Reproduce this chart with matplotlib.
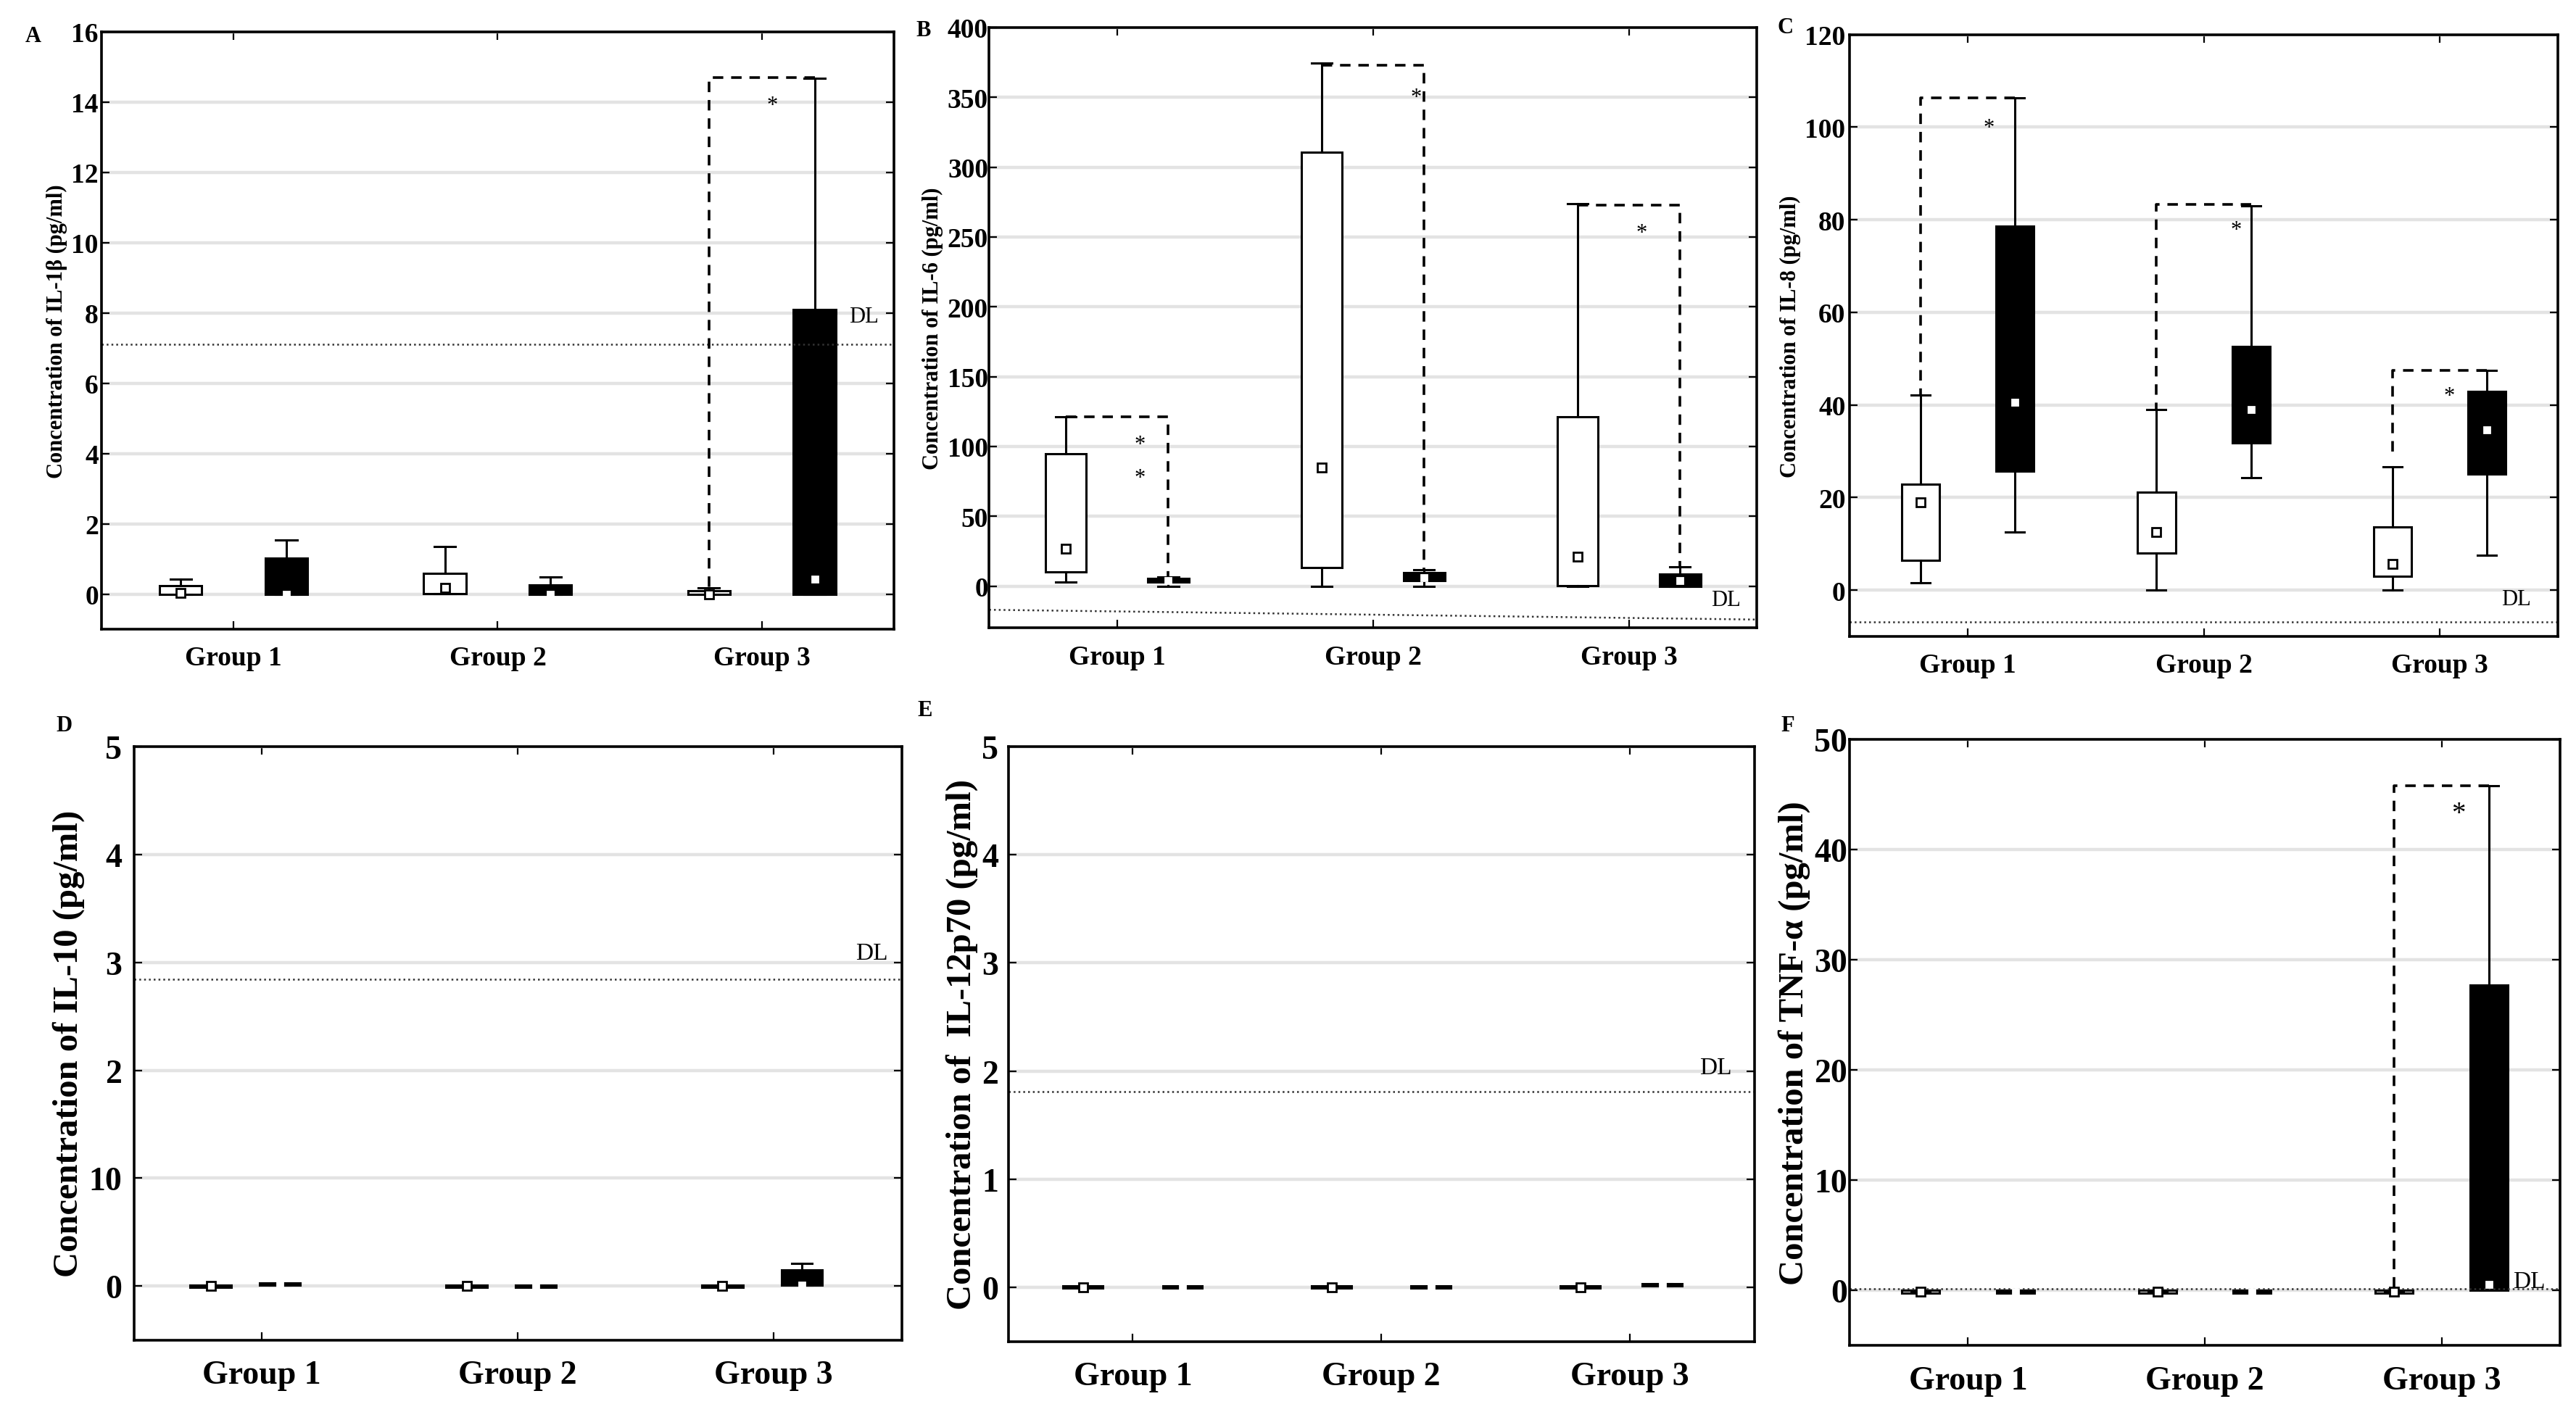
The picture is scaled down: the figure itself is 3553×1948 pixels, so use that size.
import matplotlib.pyplot as plt

plt.rcParams['font.family'] = ['Liberation Serif', 'DejaVu Serif']
plt.rcParams['font.weight'] = 'bold'

groups = ['Group 1', 'Group 2', 'Group 3']
# box order in every panel: G1 white, G1 black, G2 white, G2 black, G3 white, G3 black

# A - IL-1beta
a_pos = [0.3, 0.7, 1.3, 1.7, 2.3, 2.7]
a_lo = [0.0, 0.0, 0.02, 0.0, 0.0, 0.0]
a_q1 = [0.0, 0.0, 0.02, 0.0, 0.0, 0.0]
a_med = [0.03, 0.0, 0.18, 0.0, 0.0, 0.43]
a_q3 = [0.25, 1.02, 0.6, 0.27, 0.09, 8.09]
a_hi = [0.43, 1.55, 1.36, 0.5, 0.19, 14.67]
a_dl = 7.1

# B - IL-6
b_pos = [0.3, 0.7, 1.3, 1.7, 2.3, 2.7]
b_lo = [3.1, 0.0, 0.0, 0.0, 0.0, 0.0]
b_q1 = [10.2, 3.1, 13.4, 4.0, 0.3, 0.0]
b_med = [27.0, 4.0, 84.8, 6.2, 21.0, 4.0]
b_q3 = [94.7, 5.5, 310.6, 9.6, 121.4, 8.7]
b_hi = [121.4, 6.5, 374.8, 11.8, 273.6, 14.0]
b_dl = (-17.0, -24.0)

# C - IL-8
c_pos = [0.3, 0.7, 1.3, 1.7, 2.3, 2.7]
c_lo = [1.6, 12.5, 0.0, 24.3, 0.0, 7.5]
c_q1 = [6.5, 25.7, 8.0, 31.8, 3.0, 25.0]
c_med = [18.9, 40.6, 12.6, 39.0, 5.6, 34.6]
c_q3 = [22.9, 78.6, 21.1, 52.6, 13.6, 43.0]
c_hi = [42.1, 106.3, 39.0, 83.0, 26.6, 47.5]
c_dl = -6.8

# D - IL-10
d_pos = [0.3, 0.57, 1.3, 1.57, 2.3, 2.61]
d_lo = [0.0, 0.01, 0.0, 0.0, 0.0, 0.01]
d_q1 = [-0.01, 0.01, -0.01, -0.01, -0.01, 0.01]
d_med = [0.0, 0.02, 0.0, 0.0, 0.0, 0.01]
d_q3 = [0.01, 0.03, 0.01, 0.01, 0.01, 0.15]
d_hi = [0.0, 0.03, 0.0, 0.0, 0.0, 0.21]
d_dl = 2.84

# E - IL-12p70
e_pos = [0.3, 0.7, 1.3, 1.7, 2.3, 2.63]
e_lo = [0.0, 0.0, 0.0, 0.0, 0.0, 0.01]
e_q1 = [-0.01, -0.01, -0.01, -0.01, -0.01, 0.01]
e_med = [0.0, 0.0, 0.0, 0.0, 0.0, 0.02]
e_q3 = [0.01, 0.01, 0.01, 0.01, 0.01, 0.03]
e_hi = [0.0, 0.0, 0.0, 0.0, 0.0, 0.03]
e_dl = 1.81

# F - TNF-alpha
f_pos = [0.3, 0.7, 1.3, 1.7, 2.3, 2.7]
f_lo = [-0.1, -0.1, -0.1, -0.1, -0.1, 0.0]
f_q1 = [-0.25, -0.25, -0.25, -0.25, -0.25, 0.0]
f_med = [-0.1, -0.1, -0.1, -0.1, -0.1, 0.54]
f_q3 = [0.0, 0.0, 0.0, 0.0, 0.0, 27.7]
f_hi = [-0.1, -0.1, -0.1, -0.1, -0.1, 45.8]
f_dl = 0.13

# significance brackets: (x of vertical dashed leg, other x, top y, bottom y of leg)
a_brackets = [(2.3, 2.7, 14.7, 0.19)]
b_brackets = [(0.7, 0.3, 121.4, 6.5), (1.7, 1.3, 373.0, 11.8), (2.7, 2.3, 272.7, 14.0)]
c_brackets = [(0.3, 0.7, 106.3, 42.1), (1.3, 1.7, 83.3, 39.0), (2.3, 2.7, 47.5, 29.0)]
f_brackets = [(2.3, 2.7, 45.8, 0.0)]
a_stars = [(2.54, 13.9)]
b_stars = [(0.59, 101.0), (0.59, 77.6), (1.668, 350.0), (2.55, 253.0)]
c_stars = [(0.59, 99.9), (1.637, 77.7), (2.54, 41.9)]
f_stars = [(2.57, 43.3)]


def draw_panel(ax, pos, lo, q1, med, q3, hi, ylim, yticks, yticklabels, ylabel,
               dl, dl_xy, brackets, stars, big, ypad):
    stats = []
    for i in range(len(pos)):
        stats.append(dict(med=med[i], mean=med[i], q1=q1[i], q3=q3[i],
                          whislo=lo[i], whishi=hi[i], fliers=[]))
    bp = ax.bxp(stats, positions=pos, widths=0.16, capwidths=0.08,
                patch_artist=True, showmeans=True, showfliers=False,
                boxprops=dict(linewidth=1.1, edgecolor='black'),
                whiskerprops=dict(linewidth=1.1, color='black'),
                capprops=dict(linewidth=1.1, color='black'),
                meanprops=dict(marker='s', markersize=4.3, markerfacecolor='white',
                               markeredgecolor='black', markeredgewidth=1.0))
    for i, box in enumerate(bp['boxes']):
        box.set_facecolor('white' if i % 2 == 0 else 'black')
    for m in bp['medians']:
        m.set_visible(False)
    for i, m in enumerate(bp['means']):
        if i % 2 == 1:
            m.set_markeredgecolor('white')
            m.set_markersize(3)

    # detection limit
    if isinstance(dl, tuple):
        ax.plot([0, 3], list(dl), ls=':', color='#333333', lw=0.9)
    else:
        ax.axhline(dl, ls=':', color='#333333', lw=0.9)
    ax.text(dl_xy[0], dl_xy[1], 'DL', fontsize=12 if big else 11,
            fontweight='normal', ha='left', va='center')

    for xv, xo, yt, yb in brackets:
        ax.plot([xo, xv, xv], [yt, yt, yb], color='black', lw=1.3, ls=(0, (4, 3)))
    for sx, sy in stars:
        ax.text(sx, sy, '*', fontsize=14 if big else 11, fontweight='normal',
                ha='center', va='center')

    ax.set_xlim(0, 3)
    ax.set_ylim(*ylim)
    ax.set_xticks([0.5, 1.5, 2.5])
    ax.set_xticklabels(groups, fontsize=16.5 if big else 13.5, fontweight='bold')
    ax.set_yticks(yticks)
    ax.set_yticklabels(yticklabels, fontsize=16.5 if big else 13.5, fontweight='bold')
    ax.set_ylabel(ylabel, fontsize=17.5 if big else 11, fontweight='bold', labelpad=2)
    ax.tick_params(axis='x', direction='in', top=True, length=4, pad=10 if big else 8)
    ax.tick_params(axis='y', direction='in', right=True, length=4, pad=ypad)
    ax.yaxis.grid(True, color='#e3e3e3', lw=1.6)
    ax.set_axisbelow(True)
    for s in ax.spines.values():
        s.set_linewidth(1.3)


fig = plt.figure(figsize=(17.765, 9.745), dpi=200)

axA = fig.add_axes([0.0394, 0.554, 0.3076, 0.423])
draw_panel(axA, a_pos, a_lo, a_q1, a_med, a_q3, a_hi, (-1, 16), list(range(0, 17, 2)),
           [str(v) for v in range(0, 17, 2)], 'Concentration of IL-1β (pg/ml)',
           a_dl, (2.83, 7.9), a_brackets, a_stars, False, 1.5)

axB = fig.add_axes([0.384, 0.555, 0.298, 0.425])
draw_panel(axB, b_pos, b_lo, b_q1, b_med, b_q3, b_hi, (-30, 400), list(range(0, 401, 50)),
           [str(v) for v in range(0, 401, 50)], 'Concentration of IL-6 (pg/ml)',
           b_dl, (2.82, -10), b_brackets, b_stars, False, 0.5)

axC = fig.add_axes([0.718, 0.549, 0.275, 0.426])
draw_panel(axC, c_pos, c_lo, c_q1, c_med, c_q3, c_hi, (-10, 120), list(range(0, 121, 20)),
           [str(v) for v in range(0, 121, 20)], 'Concentration of IL-8 (pg/ml)',
           c_dl, (2.76, -2), c_brackets, c_stars, False, 2)

axD = fig.add_axes([0.052, 0.051, 0.298, 0.42])
draw_panel(axD, d_pos, d_lo, d_q1, d_med, d_q3, d_hi, (-0.5, 5), [0, 1, 2, 3, 4, 5],
           ['0', '10', '2', '3', '4', '5'], 'Concentration of IL-10 (pg/ml)',
           d_dl, (2.82, 3.09), [], [], True, 6)

axE = fig.add_axes([0.3915, 0.05, 0.2895, 0.421])
draw_panel(axE, e_pos, e_lo, e_q1, e_med, e_q3, e_hi, (-0.5, 5), [0, 1, 2, 3, 4, 5],
           ['0', '1', '2', '3', '4', '5'], 'Concentration of  IL-12p70 (pg/ml)',
           e_dl, (2.78, 2.03), [], [], True, 5)

axF = fig.add_axes([0.718, 0.047, 0.2758, 0.429])
draw_panel(axF, f_pos, f_lo, f_q1, f_med, f_q3, f_hi, (-5, 50), list(range(0, 51, 10)),
           [str(v) for v in range(0, 51, 10)], 'Concentration of TNF-α (pg/ml)',
           f_dl, (2.8, 0.84), f_brackets, f_stars, True, 1)

for letter, x, y in [('A', 0.013, 0.974), ('B', 0.3586, 0.978), ('C', 0.693, 0.98),
                     ('D', 0.025, 0.486), ('E', 0.359, 0.497), ('F', 0.694, 0.486)]:
    fig.text(x, y, letter, fontsize=11, fontweight='bold', ha='center', va='center')

fig.savefig('out.png', dpi=200)
